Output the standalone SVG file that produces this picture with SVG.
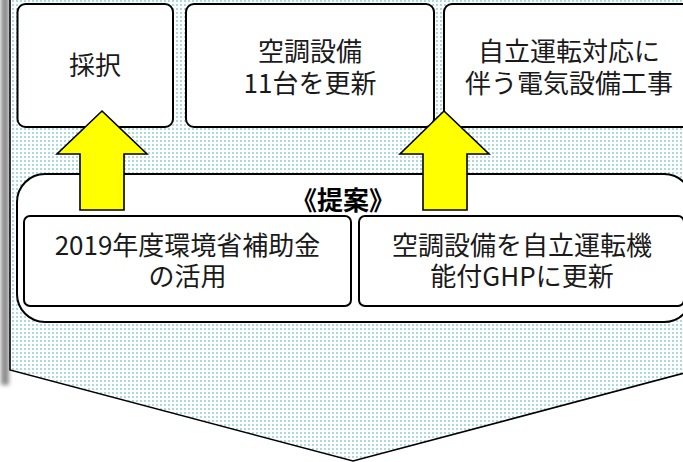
<svg xmlns="http://www.w3.org/2000/svg" width="683" height="462" viewBox="0 0 683 462">
<defs>
<pattern id="dots" width="4" height="4" patternUnits="userSpaceOnUse">
<rect width="4" height="4" fill="#ffffff"/>
<rect x="0" y="0" width="2" height="2" fill="#abdada"/>
</pattern>
<filter id="blur" x="-1" y="-0.1" width="3" height="1.2">
<feGaussianBlur stdDeviation="2.2"/>
</filter>
<style>
.box{fill:#ffffff;stroke:#000000;stroke-width:2}
.t{font-family:"Noto Sans CJK JP","Noto Sans",sans-serif;font-size:26px;fill:#1a1a1a;text-anchor:middle}
.tb{font-family:"Noto Sans CJK JP","Noto Sans",sans-serif;font-size:26px;font-weight:bold;fill:#000000;text-anchor:middle}
.arrow{fill:#ffff00;stroke:#000000;stroke-width:1.6;stroke-linejoin:miter}
</style>
</defs>
<g id="background">
<rect x="1" y="-10" width="8" height="395" fill="#8c8c8c" filter="url(#blur)"/>
<polygon points="10,-10 696,-10 696,370 353,461 10,370" fill="url(#dots)" stroke="#000000" stroke-width="1.6"/>
</g>
<g id="proposal">
<rect x="17" y="174" width="675" height="148" rx="28" ry="28" class="box"/>
<text x="343" y="210" class="tb">《提案》</text>
</g>
<g id="subsidy">
<rect x="24" y="216" width="327" height="90" rx="6" ry="6" class="box"/>
<text class="t"><tspan x="187.5" y="255">2019年度環境省補助金</tspan><tspan x="187.5" y="286">の活用</tspan></text>
</g>
<g id="ghp">
<rect x="359" y="216" width="325" height="90" rx="6" ry="6" class="box"/>
<text class="t"><tspan x="522" y="255">空調設備を自立運転機</tspan><tspan x="522" y="286">能付GHPに更新</tspan></text>
</g>
<g id="adopted">
<rect x="17.5" y="4" width="155.5" height="123" rx="8" ry="8" class="box"/>
<text x="95" y="75" class="t">採択</text>
</g>
<g id="aircon">
<rect x="186" y="4" width="248" height="123" rx="8" ry="8" class="box"/>
<text class="t"><tspan x="310" y="61">空調設備</tspan><tspan x="310" y="93">11台を更新</tspan></text>
</g>
<g id="electric">
<rect x="444" y="4" width="250" height="123" rx="8" ry="8" class="box"/>
<text class="t"><tspan x="569" y="61">自立運転対応に</tspan><tspan x="569" y="93">伴う電気設備工事</tspan></text>
</g>
<g id="connectors">
<polygon class="arrow" points="102,111 147,154 124,154 124,210 80,210 80,154 57,154"/>
<polygon class="arrow" points="444,111 489,154 467,154 467,210 423,210 423,154 400,154"/>
</g>
</svg>
